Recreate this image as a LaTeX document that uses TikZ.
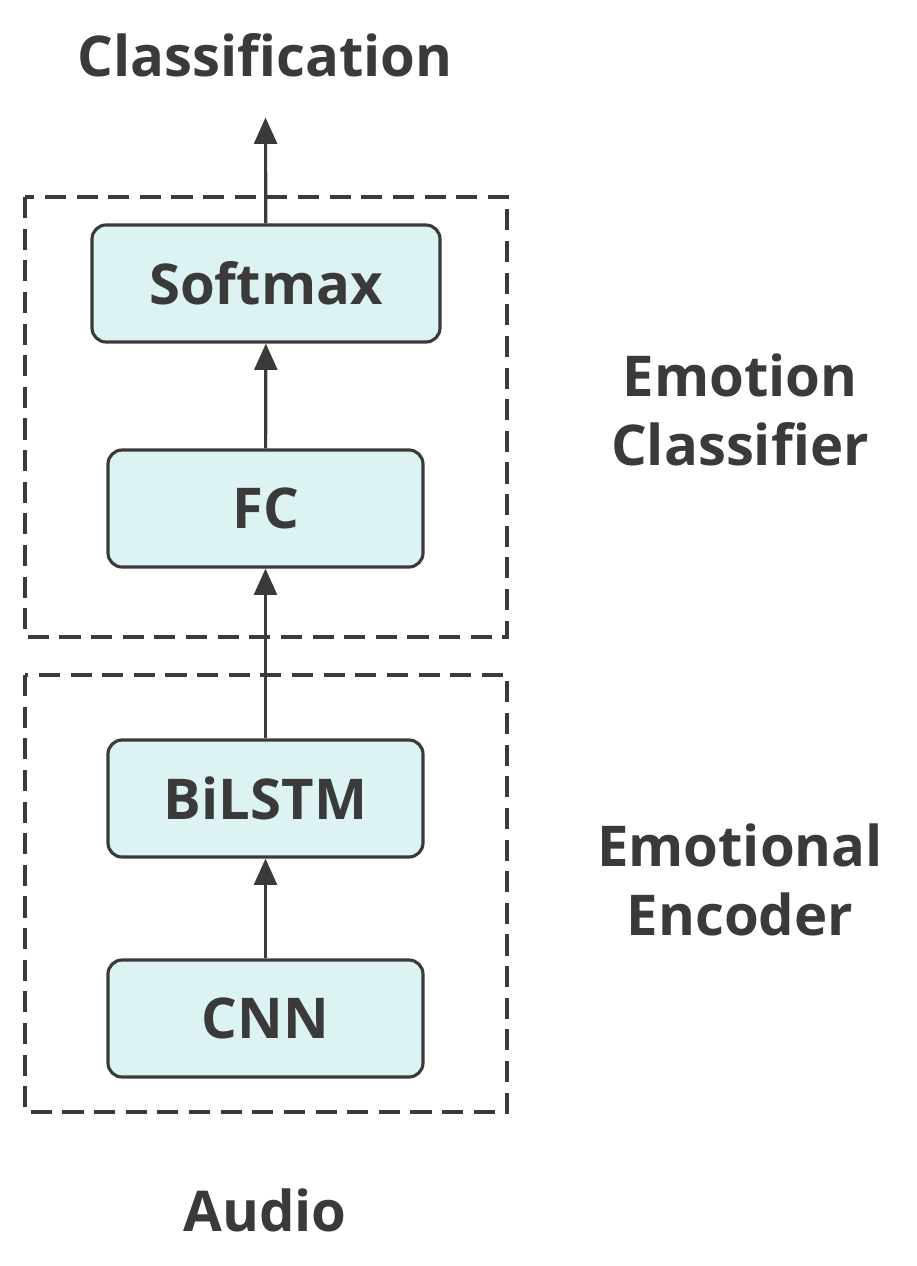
\documentclass[tikz,border=0pt]{standalone}
\usepackage{fontspec}
\setmainfont{Open Sans}
\usetikzlibrary{arrows.meta,positioning}
\definecolor{boxfill}{HTML}{DDF3F3}
\definecolor{linegray}{HTML}{3A3A3A}
\begin{document}
\begin{tikzpicture}[
  font=\bfseries\fontsize{32}{39}\selectfont,
  block/.style={draw=linegray,line width=1.8pt,rounded corners=8pt,fill=boxfill,
    minimum width=6.3cm,minimum height=2.34cm,text=linegray},
  group/.style={draw=linegray,line width=1.8pt,dash pattern=on 12pt off 6pt},
  lbl/.style={text=linegray,align=center},
  to/.style={-{Triangle[length=15pt,width=13pt]},line width=1.8pt,draw=linegray}]
  \useasboundingbox (0,0) rectangle (18.34,-25.32);

  % dashed groups
  \draw[group] (0.5,-3.94) rectangle (10.14,-12.74);
  \draw[group] (0.5,-13.5) rectangle (10.14,-22.24);

  % blocks
  \node[block,minimum width=6.96cm] (softmax) at (5.32,-5.67) {Softmax};
  \node[block] (fc) at (5.31,-10.17) {FC};
  \node[block] (bilstm) at (5.31,-15.97) {BiLSTM};
  \node[block] (cnn) at (5.31,-20.37) {CNN};

  % labels
  \node[lbl] (cls) at (5.3,-1.1) {Classification};
  \coordinate (out) at (5.31,-2.35);
  \node[lbl] (audio) at (5.3,-24.2) {Audio};
  \node[lbl] (clsname) at (14.8,-8.2) {Emotion\\Classifier};
  \node[lbl] (encname) at (14.8,-17.6) {Emotional\\Encoder};

  % arrows
  \draw[to] (cnn) -- (bilstm);
  \draw[to] (bilstm) -- (fc);
  \draw[to] (fc) -- (softmax);
  \draw[to] (softmax) -- (out);
\end{tikzpicture}
\end{document}
